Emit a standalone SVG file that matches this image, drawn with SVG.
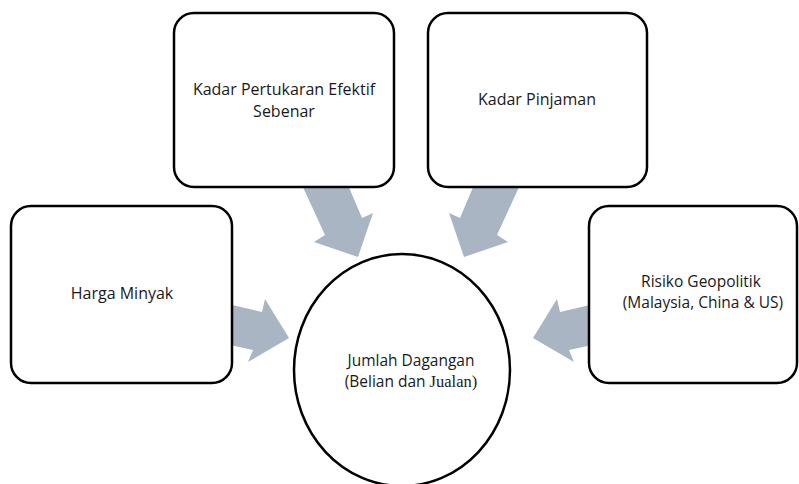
<svg xmlns="http://www.w3.org/2000/svg" width="799" height="484" viewBox="0 0 799 484">
<style>
.box{fill:#ffffff;stroke:#000000;stroke-width:2.5}
.arrow{fill:#A9B5C2;stroke:none}
.t{font-family:"Open Sans","Noto Sans","Liberation Sans",sans-serif;font-size:16px;fill:#1a1a1a;text-anchor:middle}
.s{font-size:15.5px}
.serif{font-family:"Liberation Serif",serif;font-size:16.5px}
</style>
<rect width="799" height="484" fill="#ffffff"/>
<g id="connectors">
<polygon class="arrow" points="302,185 348,185 362,218 373,213 358,257 314,242 325,235"/>
<polygon class="arrow" points="520,185 474,185 460,218 449,213 464,257 508,242 497,235"/>
<polygon class="arrow" points="230,304.5 262,312 265,299 289,338 248,362 253,350 230,345"/>
<polygon class="arrow" points="592,304.5 560,312 557,299 533,338 574,362 569,350 592,345"/>
</g>
<g id="node-kadar-pertukaran">
<rect class="box" x="174" y="13" width="220" height="174" rx="20"/>
<text class="t" x="284" y="95">Kadar Pertukaran Efektif</text>
<text class="t" x="284" y="117">Sebenar</text>
</g>
<g id="node-kadar-pinjaman">
<rect class="box" x="428" y="13" width="219" height="174" rx="20"/>
<text class="t" x="537" y="105">Kadar Pinjaman</text>
</g>
<g id="node-harga-minyak">
<rect class="box" x="11" y="206" width="221" height="177" rx="20"/>
<text class="t" x="122" y="299">Harga Minyak</text>
</g>
<g id="node-risiko">
<rect class="box" x="589" y="206" width="208" height="177" rx="20"/>
<text class="t s" x="701" y="287">Risiko Geopolitik</text>
<text class="t s" x="703" y="308">(Malaysia, China &amp; US)</text>
</g>
<g id="node-jumlah">
<ellipse class="box" cx="402" cy="370" rx="108" ry="116"/>
<text class="t s" x="411" y="366">Jumlah Dagangan</text>
<text class="t s" x="411" y="387">(Belian dan <tspan class="serif">Jualan)</tspan></text>
</g>
</svg>
